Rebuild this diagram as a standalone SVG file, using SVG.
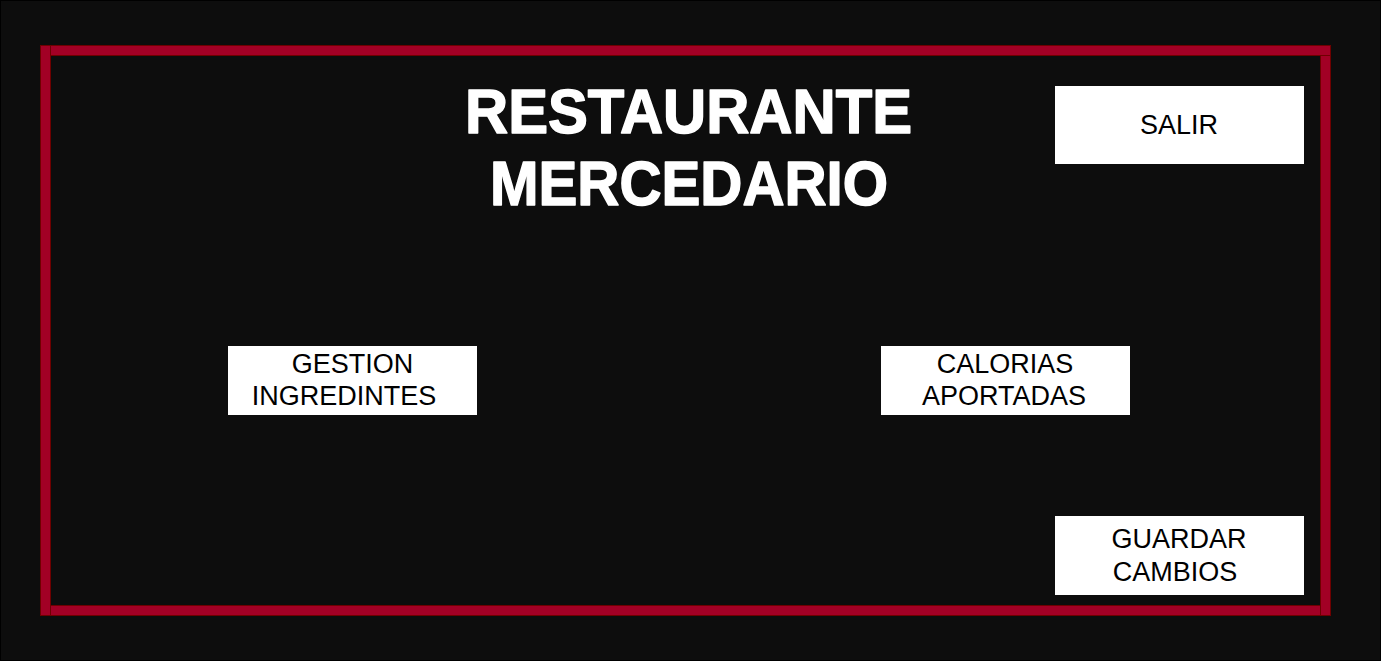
<svg xmlns="http://www.w3.org/2000/svg" width="1381" height="661" viewBox="0 0 1381 661">
<style>
.frame{fill:#A20025;stroke:#6F0000;stroke-width:1}
.btn{fill:#FFFFFF;stroke:none}
.lbl{font-family:"Liberation Sans",Arial,sans-serif;font-size:27px;fill:#000000;text-anchor:middle}
.title{font-family:"Comic Sans MS","Liberation Sans",sans-serif;font-weight:bold;font-size:63px;fill:#FFFFFF;stroke:#FFFFFF;stroke-width:1.5;stroke-linejoin:round;text-anchor:middle}
</style>
<rect x="0.5" y="0.5" width="1380" height="660" fill="#0D0D0D" stroke="#000000" stroke-width="1"/>
<g id="frame">
<rect class="frame" x="40.5" y="45.5" width="10" height="570"/>
<rect class="frame" x="50.5" y="45.5" width="1280" height="10"/>
<rect class="frame" x="1320.5" y="55.5" width="10" height="560"/>
<rect class="frame" x="50.5" y="605.5" width="1270" height="10"/>
</g>
<g id="title">
<text class="title" x="688.5" y="133" textLength="447" lengthAdjust="spacingAndGlyphs">RESTAURANTE</text>
<text class="title" x="689" y="205" textLength="398" lengthAdjust="spacingAndGlyphs">MERCEDARIO</text>
</g>
<g id="salir">
<rect class="btn" x="1055" y="86" width="249" height="78"/>
<text class="lbl" x="1179" y="134">SALIR</text>
</g>
<g id="gestion">
<rect class="btn" x="228" y="346" width="249" height="69"/>
<text class="lbl" x="352.5" y="373">GESTION</text>
<text class="lbl" x="344" y="405">INGREDINTES</text>
</g>
<g id="calorias">
<rect class="btn" x="881" y="346" width="249" height="69"/>
<text class="lbl" x="1005" y="373">CALORIAS</text>
<text class="lbl" x="1004" y="405">APORTADAS</text>
</g>
<g id="guardar">
<rect class="btn" x="1055" y="516" width="249" height="79"/>
<text class="lbl" x="1179" y="548">GUARDAR</text>
<text class="lbl" x="1175" y="581">CAMBIOS</text>
</g>
<g id="connectors"></g>
</svg>
